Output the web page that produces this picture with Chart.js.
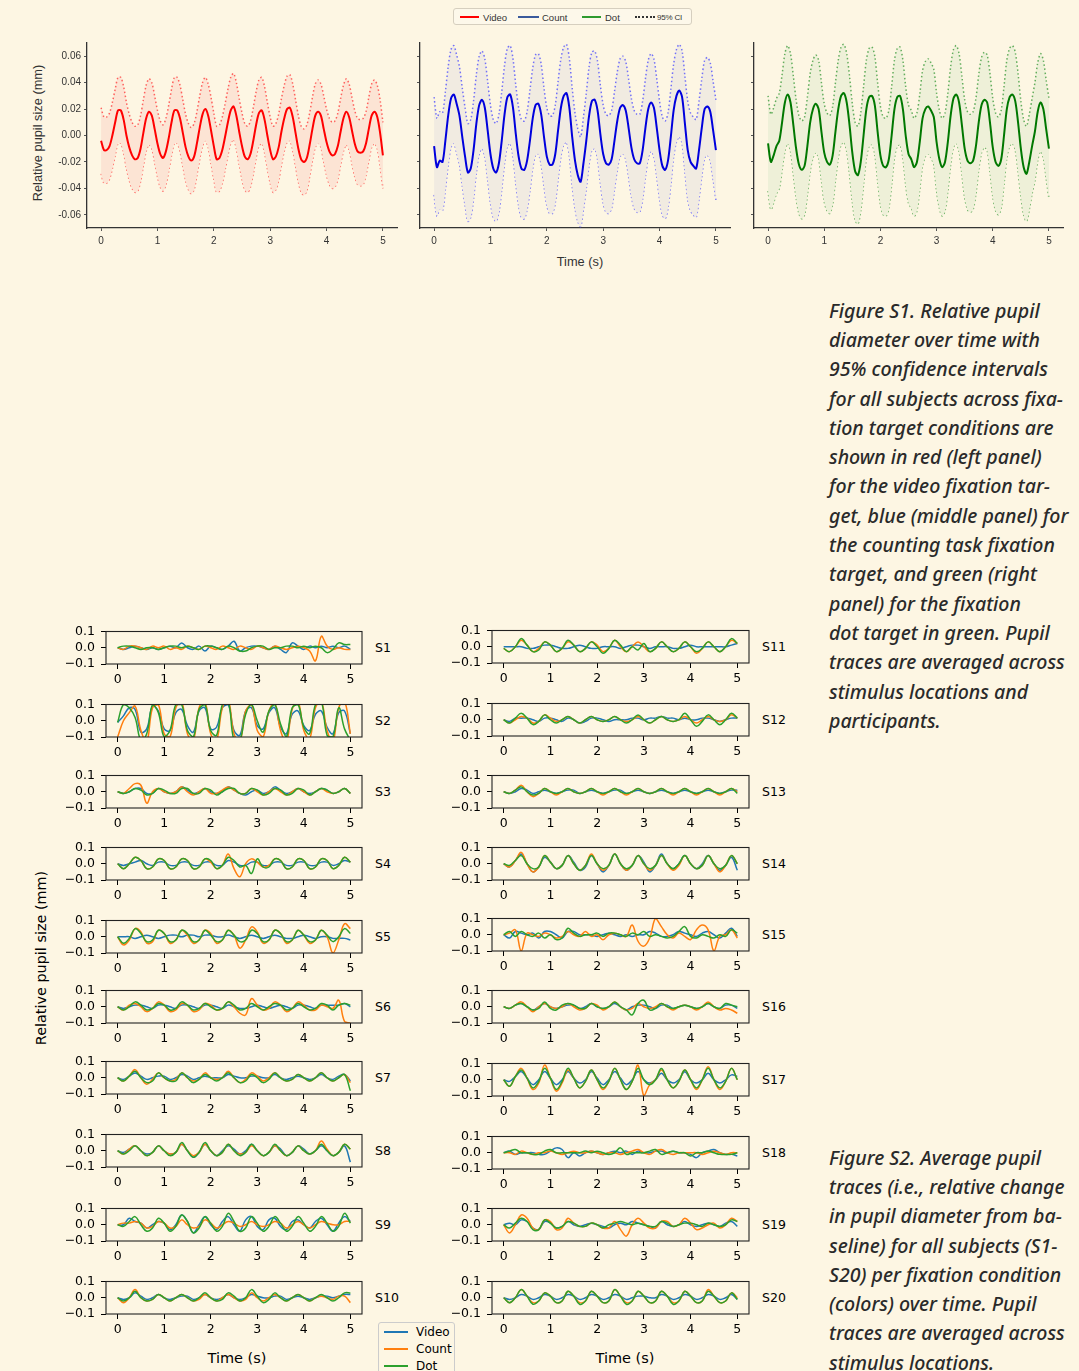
<!DOCTYPE html>
<html>
<head>
<meta charset="utf-8">
<title>Relative pupil diameter over time</title>
<script src="https://cdn.jsdelivr.net/npm/chart.js@4.4.1/dist/chart.umd.min.js"></script>
<style>
  html, body { margin: 0; padding: 0; }
  body { width: 1079px; height: 1371px; background: #fdf6e3; position: relative; overflow: hidden; }
  canvas { position: absolute; }
  .txt { position: absolute; white-space: nowrap; }
  .caption { position: absolute; left: 829px; font-family: "Noto Sans", sans-serif; font-style: italic; font-weight: 500;
             font-size: 19.5px; line-height: 29.3px; color: #2a2a2a; white-space: nowrap; }
  .legbox { position: absolute; box-sizing: border-box; border: 1px solid #d6cfbf; border-radius: 3px; }
  .sw { position: absolute; }
  .lt { position: absolute; white-space: nowrap; transform: translateY(-50%); }
  .slabel { position: absolute; font-family: "DejaVu Sans", sans-serif; font-size: 12.5px; color: #000;
            transform: translateY(-50%); white-space: nowrap; }
</style>
</head>
<body>

<!-- legend of the three mean panels -->
<div class="legbox" style="left:453px;top:8px;width:239px;height:17px;background:#fdf8ea;font-family:'Liberation Sans',Arial,sans-serif;color:#333;">
  <div class="sw" style="left:6px;top:7px;width:19px;height:1.5px;background:#ff0000;"></div>
  <div class="lt" style="left:29px;top:8px;font-size:9.5px;">Video</div>
  <div class="sw" style="left:64px;top:7px;width:21px;height:1.5px;background:#3a5a9c;"></div>
  <div class="lt" style="left:88px;top:8px;font-size:9.5px;">Count</div>
  <div class="sw" style="left:128px;top:7px;width:19px;height:1.5px;background:#2e9a2e;"></div>
  <div class="lt" style="left:151px;top:8px;font-size:9.5px;">Dot</div>
  <div class="sw" style="left:181px;top:7px;width:20px;height:0;border-top:2px dotted #333;"></div>
  <div class="lt" style="left:203px;top:8px;font-size:8px;letter-spacing:-0.2px;">95% CI</div>
</div>

<div class="txt" style="left:37px;top:133px;font-family:'Liberation Sans',Arial,sans-serif;font-size:12.8px;color:#333;transform:translate(-50%,-50%) rotate(-90deg);">Relative pupil size (mm)</div>
<div class="txt" style="left:580px;top:261px;font-family:'Liberation Sans',Arial,sans-serif;font-size:12.8px;color:#333;transform:translate(-50%,-50%);">Time (s)</div>

<div class="caption" style="top:295.7px;">Figure S1. Relative pupil<br>diameter over time with<br>95% confidence intervals<br>for all subjects across fixa-<br>tion target conditions are<br>shown in red (left panel)<br>for the video fixation tar-<br>get, blue (middle panel) for<br>the counting task fixation<br>target, and green (right<br>panel) for the fixation<br>dot target in green. Pupil<br>traces are averaged across<br>stimulus locations and<br>participants.</div>

<div class="caption" style="top:1142.7px;">Figure S2. Average pupil<br>traces (i.e., relative change<br>in pupil diameter from ba-<br>seline) for all subjects (S1-<br>S20) per fixation condition<br>(colors) over time. Pupil<br>traces are averaged across<br>stimulus locations.</div>

<div class="txt" style="left:41px;top:958px;font-family:'DejaVu Sans',sans-serif;font-size:14.4px;color:#000;transform:translate(-50%,-50%) rotate(-90deg);">Relative pupil size (mm)</div>
<div class="txt" style="left:237px;top:1358px;font-family:'DejaVu Sans',sans-serif;font-size:14.5px;color:#000;transform:translate(-50%,-50%);">Time (s)</div>
<div class="txt" style="left:625px;top:1358px;font-family:'DejaVu Sans',sans-serif;font-size:14.5px;color:#000;transform:translate(-50%,-50%);">Time (s)</div>

<!-- legend of the per-subject panels -->
<div class="legbox" style="left:378px;top:1322px;width:77px;height:70px;border-color:#cccccc;font-family:'DejaVu Sans',sans-serif;font-size:12px;color:#000;">
  <div class="sw" style="left:5px;top:8px;width:24px;height:1.6px;background:#1f77b4;"></div>
  <div class="lt" style="left:37px;top:9px;">Video</div>
  <div class="sw" style="left:5px;top:25px;width:24px;height:1.6px;background:#ff7f0e;"></div>
  <div class="lt" style="left:37px;top:26px;">Count</div>
  <div class="sw" style="left:5px;top:42px;width:24px;height:1.6px;background:#2ca02c;"></div>
  <div class="lt" style="left:37px;top:43px;">Dot</div>
</div>

<script>
// ---------- Mean traces (relative pupil size in mm), sampled every 0.05 s ----------
const topTimes = Array.from({ length: 101 }, (_, i) => +(i * 0.05).toFixed(2));

const videoMean = [
  -0.004,-0.011,-0.011,-0.008,0.000,0.010,0.019,0.019,0.012,0.000,
  -0.009,-0.015,-0.018,-0.017,-0.010,0.002,0.013,0.018,0.015,0.005,
  -0.006,-0.014,-0.017,-0.012,-0.002,0.010,0.019,0.019,0.013,0.002,
  -0.009,-0.016,-0.019,-0.016,-0.006,0.006,0.016,0.020,0.015,0.004,
  -0.008,-0.018,-0.017,-0.011,-0.001,0.010,0.019,0.022,0.015,0.003,
  -0.008,-0.016,-0.018,-0.014,-0.004,0.008,0.017,0.019,0.012,0.000,
  -0.011,-0.018,-0.016,-0.009,0.003,0.013,0.020,0.021,0.014,0.002,
  -0.010,-0.018,-0.020,-0.017,-0.007,0.005,0.015,0.018,0.015,0.005,
  -0.005,-0.012,-0.015,-0.014,-0.008,0.003,0.013,0.018,0.014,0.004,
  -0.006,-0.012,-0.013,-0.012,-0.006,0.005,0.015,0.018,0.014,0.002,
  -0.015
];
const videoCiHalf = [
  0.025,0.025,0.025,0.025,0.025,0.025,0.025,0.025,0.025,0.025,
  0.025,0.025,0.025,0.025,0.025,0.025,0.025,0.025,0.025,0.025,
  0.025,0.025,0.025,0.025,0.025,0.025,0.025,0.025,0.025,0.025,
  0.025,0.025,0.025,0.025,0.024,0.024,0.024,0.024,0.024,0.025,
  0.025,0.025,0.025,0.025,0.025,0.025,0.025,0.025,0.025,0.025,
  0.025,0.025,0.025,0.025,0.025,0.025,0.025,0.025,0.025,0.025,
  0.025,0.025,0.025,0.025,0.025,0.025,0.025,0.025,0.025,0.025,
  0.025,0.025,0.025,0.025,0.024,0.024,0.024,0.024,0.024,0.025,
  0.025,0.025,0.025,0.025,0.025,0.025,0.025,0.025,0.025,0.025,
  0.025,0.025,0.025,0.025,0.024,0.024,0.024,0.024,0.024,0.025,
  0.025
];

const countMean = [
  -0.008,-0.024,-0.019,-0.020,-0.004,0.015,0.028,0.031,0.024,0.015,
  -0.001,-0.016,-0.028,-0.025,-0.011,0.009,0.023,0.027,0.021,0.004,
  -0.014,-0.025,-0.028,-0.021,-0.004,0.016,0.029,0.031,0.021,0.001,
  -0.016,-0.025,-0.026,-0.019,-0.004,0.013,0.023,0.024,0.016,-0.001,
  -0.016,-0.022,-0.022,-0.014,0.004,0.021,0.030,0.032,0.021,-0.001,
  -0.019,-0.030,-0.035,-0.021,-0.004,0.015,0.026,0.027,0.019,0.001,
  -0.014,-0.021,-0.022,-0.018,-0.004,0.011,0.021,0.023,0.019,0.006,
  -0.009,-0.018,-0.021,-0.021,-0.011,0.006,0.020,0.025,0.021,0.006,
  -0.011,-0.023,-0.026,-0.019,-0.001,0.019,0.030,0.034,0.029,0.009,
  -0.011,-0.020,-0.023,-0.025,-0.011,0.006,0.020,0.022,0.018,0.004,
  -0.011
];
const countCiHalf = [
  0.037,0.037,0.037,0.037,0.037,0.037,0.037,0.037,0.037,0.037,
  0.037,0.037,0.037,0.037,0.037,0.037,0.037,0.037,0.037,0.037,
  0.037,0.037,0.037,0.037,0.037,0.037,0.037,0.037,0.037,0.037,
  0.037,0.037,0.037,0.037,0.038,0.038,0.038,0.038,0.038,0.037,
  0.037,0.037,0.037,0.037,0.037,0.037,0.037,0.037,0.037,0.037,
  0.036,0.035,0.034,0.035,0.036,0.037,0.037,0.037,0.037,0.037,
  0.037,0.037,0.037,0.037,0.037,0.037,0.037,0.037,0.037,0.037,
  0.037,0.037,0.037,0.037,0.037,0.037,0.037,0.037,0.037,0.037,
  0.037,0.037,0.037,0.036,0.036,0.035,0.035,0.035,0.035,0.036,
  0.037,0.037,0.037,0.037,0.037,0.037,0.037,0.037,0.037,0.037,
  0.038
];

const dotMean = [
  -0.006,-0.020,-0.015,-0.008,-0.004,0.010,0.025,0.031,0.025,0.008,
  -0.010,-0.022,-0.026,-0.023,-0.008,0.010,0.020,0.024,0.020,0.003,
  -0.013,-0.020,-0.022,-0.015,0.003,0.020,0.030,0.032,0.025,0.008,
  -0.013,-0.027,-0.030,-0.020,0.000,0.020,0.029,0.030,0.023,0.003,
  -0.015,-0.023,-0.024,-0.018,0.000,0.020,0.029,0.030,0.020,0.000,
  -0.014,-0.018,-0.024,-0.020,-0.005,0.013,0.020,0.022,0.019,0.014,
  -0.005,-0.018,-0.024,-0.020,-0.005,0.015,0.028,0.031,0.025,0.008,
  -0.010,-0.019,-0.021,-0.019,-0.008,0.010,0.023,0.027,0.025,0.010,
  -0.009,-0.020,-0.023,-0.018,0.000,0.020,0.029,0.031,0.026,0.010,
  -0.010,-0.024,-0.029,-0.020,-0.008,0.003,0.018,0.025,0.020,0.005,
  -0.010
];
const dotCiHalf = [
  0.036,0.036,0.036,0.036,0.036,0.036,0.037,0.037,0.037,0.037,
  0.037,0.037,0.037,0.037,0.037,0.037,0.037,0.037,0.037,0.037,
  0.037,0.037,0.037,0.037,0.037,0.037,0.037,0.037,0.037,0.037,
  0.037,0.037,0.037,0.037,0.037,0.037,0.037,0.037,0.037,0.037,
  0.037,0.037,0.037,0.037,0.037,0.037,0.037,0.037,0.037,0.037,
  0.037,0.037,0.037,0.037,0.036,0.036,0.036,0.036,0.036,0.036,
  0.037,0.037,0.037,0.037,0.037,0.037,0.037,0.037,0.037,0.037,
  0.037,0.037,0.037,0.037,0.036,0.036,0.036,0.036,0.036,0.037,
  0.037,0.037,0.037,0.037,0.037,0.037,0.037,0.037,0.037,0.037,
  0.036,0.036,0.036,0.036,0.036,0.037,0.037,0.037,0.037,0.037,
  0.038
];

// ---------- Per-subject traces (mm), sampled every 0.125 s ----------
const subTimes = Array.from({ length: 41 }, (_, i) => i * 0.125);
const subjects = ['S1','S2','S3','S4','S5','S6','S7','S8','S9','S10',
                  'S11','S12','S13','S14','S15','S16','S17','S18','S19','S20'];

const videoTraces = [
  [0,-0.01,0,0.01,0,-0.01,0,-0.01, 0,0.01,0,0.03,0,-0.01,0.01,-0.02, 0.01,0,-0.01,0.01,0.04,-0.02,0,0.01, 0.01,0,-0.01,0.01,-0.01,-0.03,0.03,0.01, -0.01,0.01,0,0.01,0,0.01,0,0.01, -0.01],
  [-0.01,0.03,0.08,0.07,-0.07,-0.05,0.09,0.06, -0.05,-0.06,0.05,0.07,-0.03,-0.07,0.06,0.08, -0.05,-0.04,0.08,0.1,-0.06,-0.09,0.06,0.08, -0.03,-0.05,0.05,0.08,-0.04,-0.08,0.04,0.06, -0.03,-0.06,0.04,0.06,-0.04,-0.08,0.05,0.06, -0.08],
  [0,-0.01,0,0.02,0.02,-0.01,-0.01,0.02, 0,-0.01,0,0.03,0.01,-0.01,0,0.02, 0,-0.01,0,0.03,0.01,-0.01,-0.02,0, 0.01,-0.01,0,0.03,0.01,-0.01,0,0.02, 0,-0.01,0,0.02,0.01,-0.01,0,0.02, -0.01],
  [0,-0.01,0,0.01,0.02,0,-0.01,0.01, 0.01,-0.01,-0.01,0.01,0.01,-0.01,-0.01,0.01, 0.01,-0.01,-0.01,0.02,0.01,-0.01,-0.01,0.01, 0.01,-0.01,-0.01,0.01,0.01,-0.01,-0.01,0.01, 0.01,-0.01,-0.01,0.01,0.01,-0.01,0,0.02, 0.01],
  [0,0,0,-0.01,0,0.01,0,-0.01, 0,0.01,0.01,0,0.01,0.01,0,0.01, 0.01,0,0,0.01,0,-0.01,0,0.01, 0,-0.01,0,0.01,0,-0.01,-0.01,0, 0.01,0,-0.01,0,0,-0.01,-0.01,-0.01, -0.02],
  [0,-0.01,0,0.01,0.01,0,-0.01,0.01, 0.01,0,-0.01,0.01,0.01,0,-0.01,0.01, 0.01,0,-0.01,0.01,0,-0.01,-0.01,0, 0.01,0,-0.01,0,0.01,0,-0.01,0.01, 0.01,0,-0.01,0.01,0.01,0.01,0.01,0.02, 0],
  [0,-0.01,0.01,0.03,0.01,-0.01,0,0.01, 0.01,-0.01,0,0.02,0.01,-0.01,0,0.01, 0,0,0,0.02,0.01,0,0,0.01, 0.01,0,0,0.02,0,-0.01,0,0.01, 0,-0.01,0,0.02,0,-0.01,0.01,0.02, -0.02],
  [0,-0.01,0.01,0.03,0,-0.02,-0.01,0.03, 0,-0.02,-0.01,0.04,0,-0.04,-0.01,0.04, 0,-0.03,0,0.03,0.01,-0.02,0,0.04, 0,-0.03,-0.01,0.03,0.01,-0.03,-0.01,0.03, 0.01,-0.02,0,0.03,0,-0.03,-0.01,0.03, -0.07],
  [0,0,0.04,0.02,0.01,-0.02,0,0.02, 0.01,-0.03,0,0.06,0.02,-0.05,0,0.05, 0,-0.03,0.02,0.05,0,-0.04,0.03,0.05, -0.01,-0.03,0.03,0.04,-0.01,-0.03,0.02,0.03, 0,-0.02,0.02,0.04,0,-0.04,0.01,0.05, 0.02],
  [0,-0.01,0,0.03,0.01,-0.01,0,0.02, 0,-0.01,0,0.01,0.01,-0.01,0,0.02, 0,-0.01,0,0.02,0,-0.01,0,0.02, 0.01,0,0,0.01,0.01,-0.01,0,0.01, 0,-0.01,0,0.01,0.01,0,0.01,0.02, 0.02],
  [0,0,0,0,-0.01,-0.01,0,0.01, 0.01,0,-0.01,-0.01,0,0.01,0,-0.01, -0.01,0,0,0,-0.01,0,0.01,0.01, 0,-0.01,0,0,0,-0.01,-0.01,0, 0.01,0,0,0,0,0,0,0.01, 0.02],
  [0,-0.01,0.01,0.01,0.01,0,-0.01,0.01, 0.01,0,-0.01,0.01,0,-0.02,-0.01,0.01, 0.01,0,-0.01,0,0,0,0.01,0.01, 0,0.01,0.01,0.02,0.01,0.01,0,0.01, 0,0,0.01,0.01,0,-0.01,0,0.01, 0.01],
  [0,-0.01,0,0.02,0.01,-0.01,0,0.01, 0,-0.01,0,0.01,0.01,-0.01,0,0.01, 0,-0.01,0,0.01,0.01,-0.01,0,0.01, 0,-0.01,0,0.01,0,-0.01,0,0.01, 0,-0.01,0,0.01,0,-0.01,0,0.01, 0.01],
  [0,-0.02,0.02,0.06,0,-0.05,-0.02,0.04, 0.01,-0.03,-0.01,0.05,0.01,-0.04,-0.02,0.05, 0,-0.05,-0.01,0.06,0,-0.04,-0.01,0.05, 0.01,-0.05,-0.01,0.06,0,-0.03,0,0.05, 0,-0.03,0,0.05,0,-0.04,-0.01,0.04, -0.04],
  [0,-0.02,0.02,0.01,0,0.01,-0.02,0.02, 0.02,0,-0.02,0.02,0.02,0,0,0, -0.01,0,0.01,0,-0.01,0,-0.01,0, 0,0.02,0.01,-0.01,-0.01,0,0.02,0.01, 0,-0.01,0.01,0.02,0,-0.02,0.01,0.04, -0.01],
  [0,-0.01,0.01,0.02,0,-0.02,0,0.02, 0,-0.01,0,0.01,0.01,-0.01,0,0.02, 0,-0.01,0,0.02,0,-0.02,0,0.01, 0.01,0,-0.01,0.01,0.01,-0.01,0,0.01, 0,-0.01,0,0.02,0,-0.01,0.01,0.01, -0.01],
  [0,-0.01,0.02,0.05,0.01,-0.03,0,0.05, 0.01,-0.03,0,0.05,0.01,-0.02,0,0.05, 0.01,-0.03,0,0.05,0.01,-0.03,0,0.05, 0,-0.02,0,0.04,0,-0.02,0,0.05, 0,-0.02,0,0.04,0,-0.02,0,0.03, 0.02],
  [0,0.01,-0.01,0,0,0,-0.01,-0.01, 0.01,0.03,0.02,-0.03,0,-0.02,0,0.01, 0,-0.01,0,0.01,0,0.01,-0.01,0.01, 0,0,0.01,0.01,0,0.01,0,0, -0.01,-0.03,0,0.01,0.02,0,-0.01,-0.01, -0.02],
  [0,0.01,0,0.03,0.02,-0.02,-0.03,0.02, 0.01,-0.02,-0.01,0.02,0,-0.01,0,0.01, 0,-0.01,-0.02,0,0.01,0,0.02,0.01, 0,-0.01,-0.02,0.02,0,-0.01,0,0.02, 0,-0.01,0,0.01,0,-0.01,0.01,0.02, -0.01],
  [0,-0.01,0,0.02,0.01,-0.01,0,0.02, 0.01,-0.01,0,0.02,0.01,-0.01,0,0.02, 0.01,-0.01,0,0.02,0.01,-0.01,0,0.01, 0.01,0,0,0.02,0.01,-0.01,0,0.02, 0.01,-0.01,0,0.02,0.01,-0.01,0,0.02, -0.01]
];

const countTraces = [
  [0,-0.01,0.01,0.01,0,-0.01,0.01,0, 0.01,-0.01,0,-0.01,0.01,0,-0.01,0.01, 0,-0.01,0.01,0,-0.01,0.01,0,-0.01, 0.01,0,-0.01,0.01,0,-0.01,0,0.01, 0,-0.02,-0.08,0.07,0.01,-0.01,0,-0.01, -0.01],
  [-0.1,0,0.05,0.09,-0.06,-0.13,0.08,0.1, -0.08,-0.1,0.08,0.12,-0.08,-0.12,0.08,0.12, -0.08,-0.12,0.08,0.13,-0.08,-0.13,0.06,0.1, -0.06,-0.1,0.06,0.11,-0.06,-0.13,0.07,0.12, -0.06,-0.11,0.08,0.12,-0.06,-0.13,0.08,0.12, -0.08],
  [0,-0.01,0.02,0.05,0.04,-0.07,0,0.02, 0,-0.01,0,0.03,0,-0.02,0,0.02, -0.01,-0.01,0.01,0.03,0.01,-0.01,-0.01,0.02, 0,-0.02,0,0.02,0,-0.02,0,0.02, 0,-0.02,0,0.02,0,-0.01,0,0.02, -0.01],
  [0,-0.03,0,0.04,0.02,-0.03,-0.02,0.03, 0.02,-0.03,-0.02,0.03,0.02,-0.03,-0.02,0.03, 0.01,-0.03,-0.01,0.06,-0.03,-0.08,0,0.03, 0.01,-0.02,-0.01,0.03,0.02,-0.03,-0.02,0.03, 0.02,-0.03,-0.02,0.03,0.02,-0.03,-0.01,0.04, 0.01],
  [0,-0.05,-0.02,0.05,0.03,-0.04,-0.03,0.04, 0.02,-0.04,-0.02,0.04,0.01,-0.04,-0.02,0.04, 0.02,-0.04,-0.02,0.04,0.01,-0.07,-0.02,0.06, 0.03,-0.04,-0.02,0.04,0.02,-0.04,-0.02,0.04, 0.01,-0.04,-0.02,0.04,0,-0.1,-0.02,0.08, 0.05],
  [0,-0.02,0.01,0.02,0,-0.03,-0.01,0.03, 0.01,-0.03,-0.02,0.02,0.01,-0.03,-0.02,0.02, 0.01,-0.02,-0.01,0.03,0,-0.04,-0.05,0.05, 0.01,-0.02,-0.01,0.03,0.01,-0.03,-0.01,0.03, 0.01,-0.02,-0.02,0.01,0,-0.01,0.04,-0.09, -0.1],
  [0,-0.02,0.01,0.05,0,-0.04,-0.01,0.03, 0,-0.02,-0.01,0.03,0,-0.02,-0.01,0.03, 0,-0.01,0,0.04,0,-0.03,-0.01,0.03, 0.01,-0.02,0,0.03,0,-0.02,-0.01,0.02, 0,-0.02,0,0.03,0,-0.02,0,0.02, -0.03],
  [0,-0.02,0.01,0.03,0,-0.03,-0.01,0.03, 0,-0.02,-0.01,0.04,0,-0.03,-0.01,0.04, 0,-0.03,-0.01,0.04,0,-0.02,-0.01,0.03, 0,-0.03,-0.01,0.03,0,-0.03,-0.01,0.03, 0,-0.02,0,0.06,0.01,-0.03,-0.01,0.04, 0.01],
  [0,0.01,0.01,0.02,0.01,-0.02,-0.01,0.02, 0.01,-0.02,-0.01,0.03,0,-0.02,-0.01,0.03, 0.01,-0.02,0,0.02,0.01,-0.01,0,0.02, 0,-0.01,0,0.02,0.01,-0.02,0,0.02, 0,-0.02,0,0.02,0.01,0,0,0.02, 0.02],
  [0,-0.03,0,0.05,0,-0.02,-0.01,0.02, 0,-0.02,0,0.02,0,-0.02,-0.01,0.02, 0,-0.02,0,0.02,0,-0.02,-0.01,0.03, 0,-0.02,0,0.02,0,-0.02,0,0.02, 0,-0.02,0,0.01,0,-0.01,0.01,0.01, -0.03],
  [-0.01,-0.03,0,0.04,0.01,-0.03,-0.01,0.03, 0.01,-0.03,-0.01,0.03,0.01,-0.03,-0.01,0.03, 0.01,-0.03,-0.01,0.04,0,-0.03,0,0.03, 0,-0.03,-0.01,0.03,0,-0.03,-0.01,0.03, 0,-0.04,-0.01,0.03,0,-0.03,0,0.04, 0.02],
  [0,-0.02,0,0.02,0.01,-0.02,-0.01,0.03, 0.01,-0.01,0,0.02,0,-0.02,0,0.02, 0,-0.01,0,0.02,0,-0.01,0,0.02, 0,-0.02,0,0.02,0,-0.01,0,0.02, 0,-0.02,0,0.02,0,-0.01,0,0.03, 0.01],
  [0,-0.01,0.01,0.04,0,-0.03,-0.01,0.02, 0,-0.02,0,0.02,0,-0.01,0,0.02, 0,-0.02,0,0.02,0,-0.02,0,0.02, 0,-0.01,0,0.02,0,-0.02,0,0.02, 0,-0.02,0,0.02,0,-0.02,0,0.02, 0],
  [0,-0.02,0.02,0.07,0,-0.05,-0.02,0.05, 0.01,-0.03,-0.01,0.05,0,-0.04,-0.01,0.06, 0,-0.04,-0.01,0.06,0,-0.04,-0.01,0.05, 0,-0.04,-0.01,0.05,0,-0.04,-0.01,0.05, 0,-0.03,-0.01,0.05,0,-0.05,-0.01,0.05, 0],
  [0,0.01,0.03,-0.1,0.01,0,-0.01,0.01, 0,-0.02,-0.01,0.02,0,-0.01,0.02,-0.01, 0,-0.03,0,0.01,0,-0.01,0.06,-0.04, -0.07,-0.02,0.1,0.05,0,-0.02,0.01,-0.01, -0.03,0.03,0.06,0.03,-0.1,-0.01,0,0.03, -0.02],
  [0,-0.01,0.01,0.03,0,-0.03,0,0.02, 0,-0.01,0,0.02,0,-0.02,-0.01,0.02, 0.01,-0.02,0,0.03,0,-0.02,-0.01,0.02, 0,-0.01,0,0.02,0,-0.02,0,0.01, 0,-0.02,0,0.03,0,-0.02,-0.01,-0.02, -0.04],
  [0,-0.04,0.02,0.07,0.01,-0.06,-0.02,0.09, 0.01,-0.07,-0.02,0.06,0.01,-0.05,-0.01,0.06, 0,-0.06,-0.01,0.07,0,-0.06,-0.01,0.09, -0.1,-0.03,0,0.06,0,-0.05,-0.01,0.06, 0,-0.06,0,0.08,0,-0.06,-0.01,0.07, 0],
  [0,0,-0.01,0.01,0,-0.01,0,0, 0.01,0,-0.01,0,0.01,0,0,0.01, 0,-0.01,0,0,-0.01,0,0.01,0.02, 0,-0.01,0.01,0.02,0,-0.01,0,0, 0,0,-0.01,0,0.01,0,-0.01,0, 0],
  [0,-0.05,0,0.06,0.04,-0.02,-0.03,0.03, 0.02,-0.03,-0.02,0.04,0.01,-0.01,-0.01,0.01, 0,-0.02,-0.02,0.02,-0.03,-0.07,0,0.04, 0.01,-0.02,-0.02,0.02,0.02,-0.01,0,0.04, 0.01,-0.03,-0.02,0,0.01,-0.02,0,0.04, 0.02],
  [0,-0.03,0,0.05,0.01,-0.03,-0.02,0.03, 0.01,-0.03,-0.02,0.04,0.01,-0.03,-0.02,0.04, 0.01,-0.03,-0.02,0.05,0.01,-0.03,-0.02,0.04, 0.01,-0.03,-0.02,0.04,0.01,-0.03,-0.02,0.04, 0.01,-0.03,-0.02,0.05,0.01,-0.03,-0.02,0.03, 0]
];

const dotTraces = [
  [0,0.01,0.01,0,-0.01,0,0,-0.01, 0,0.01,0.01,0,0.01,0,-0.01,0.01, 0.01,0,-0.01,0.01,0,-0.02,-0.02,0, 0.01,0.01,-0.01,0,0,0.01,0.01,0, 0.01,0,0.01,0,-0.03,-0.01,0.03,0.02, 0.02],
  [-0.01,0.1,0.08,0.02,-0.12,-0.08,0.1,0.05, -0.1,-0.06,0.1,0.1,-0.06,-0.1,0.07,0.1, -0.06,-0.09,0.1,0.12,-0.12,-0.12,0.04,0.1, 0,-0.07,0.06,0.1,-0.02,-0.1,0.08,0.1, -0.04,-0.08,0.1,0.12,-0.09,-0.1,0.08,-0.05, -0.12],
  [0,-0.01,0,0.02,0.01,-0.02,-0.01,0.02, 0.01,-0.01,-0.01,0.02,0.02,-0.01,-0.01,0.02, 0.01,-0.02,0,0.02,0.02,-0.01,-0.01,0.02, 0.01,-0.02,-0.01,0.02,0.01,-0.02,-0.01,0.02, 0.01,-0.02,0,0.02,0.01,-0.01,0,0.02, -0.01],
  [0,-0.03,0,0.04,0.02,-0.03,-0.02,0.03, 0.02,-0.03,-0.02,0.03,0.02,-0.03,-0.02,0.03, 0.02,-0.03,-0.01,0.04,0.02,-0.02,-0.01,-0.06, 0.03,-0.02,-0.02,0.03,0.02,-0.03,-0.02,0.03, 0.02,-0.03,-0.02,0.03,0.02,-0.03,-0.01,0.04, 0.01],
  [0,-0.04,-0.01,0.05,0.02,-0.03,-0.02,0.04, 0.02,-0.03,-0.02,0.04,0.02,-0.03,-0.02,0.04, 0.01,-0.03,-0.02,0.04,0.01,-0.03,-0.02,0.04, 0.02,-0.03,-0.02,0.04,0.02,-0.03,-0.02,0.04, 0.01,-0.03,-0.02,0.04,0.01,-0.03,0,0.05, 0.02],
  [0,-0.02,0,0.03,0.01,-0.02,-0.01,0.02, 0.01,-0.02,-0.01,0.03,0.01,-0.02,-0.01,0.02, 0,-0.02,-0.01,0.03,0.01,-0.02,-0.01,0.02, 0,-0.02,0,0.02,0.01,-0.02,-0.01,0.02, 0,-0.02,-0.01,0.02,0.01,-0.02,0.01,0.02, 0.01],
  [0,-0.02,0.01,0.04,0,-0.03,-0.02,0.03, 0,-0.02,-0.02,0.03,0,-0.03,-0.01,0.02, 0,-0.02,0,0.03,0,-0.03,-0.02,0.02, 0,-0.03,-0.01,0.03,0,-0.02,-0.01,0.02, 0,-0.02,0,0.03,0,-0.02,0,0.02, -0.08],
  [0,-0.02,0,0.03,0,-0.03,-0.01,0.03, 0,-0.03,-0.01,0.05,0,-0.04,-0.01,0.05, 0,-0.03,-0.01,0.04,0,-0.03,-0.01,0.04, 0,-0.03,-0.01,0.04,0,-0.03,-0.01,0.03, 0,-0.02,0,0.04,0,-0.03,-0.01,0.04, 0.01],
  [0,-0.01,0.02,0.05,0,-0.04,-0.02,0.04, 0.01,-0.04,-0.01,0.06,0.02,-0.05,-0.02,0.05, 0.01,-0.04,-0.01,0.07,0.02,-0.04,-0.02,0.05, 0.01,-0.04,-0.01,0.05,0.01,-0.04,-0.01,0.05, 0.01,-0.04,-0.01,0.05,0.01,-0.04,-0.01,0.07, 0.01],
  [0,-0.02,0,0.04,0,-0.02,-0.01,0.02, 0,-0.02,0,0.02,0,-0.02,0,0.03, 0,-0.02,-0.01,0.03,0.01,-0.02,0,0.05, 0.01,-0.03,-0.01,0.03,0,-0.02,0,0.02, 0,-0.02,0,0.02,0,-0.02,0,0.03, 0.03],
  [-0.01,-0.03,0,0.05,0.01,-0.03,-0.02,0.03, 0.01,-0.03,-0.01,0.04,0.01,-0.03,-0.01,0.03, 0,-0.04,-0.01,0.04,0.01,-0.03,0,-0.02, 0.02,-0.03,-0.01,0.03,0,-0.03,-0.01,0.03, 0,-0.03,-0.01,0.03,0,-0.03,0,0.05, 0.02],
  [0,-0.02,0.01,0.04,0.01,-0.03,-0.01,0.03, 0,-0.02,0,0.02,0,-0.02,0,0.02, 0,-0.01,0,0.02,0,-0.02,0,0.03, 0,-0.02,0,0.02,0,-0.01,0,0.04, 0,-0.04,-0.01,0.03,0,-0.03,0,0.04, 0.01],
  [0,-0.01,0.01,0.03,0,-0.02,-0.01,0.02, 0,-0.01,0,0.02,0,-0.01,0,0.02, 0,-0.01,0,0.02,0,-0.01,0,0.02, 0,-0.01,0,0.02,0,-0.01,0,0.02, 0,-0.01,0,0.02,0,-0.01,0,0.02, -0.01],
  [0,-0.01,0.02,0.05,0,-0.03,-0.02,0.05, 0.01,-0.03,-0.01,0.05,0,-0.04,-0.01,0.05, 0,-0.03,-0.01,0.06,0,-0.03,-0.01,0.05, 0,-0.03,-0.01,0.05,0,-0.03,0,0.05, 0,-0.03,-0.01,0.05,0,-0.03,-0.01,0.05, 0],
  [0,0.02,-0.01,0.02,0,-0.01,0.01,-0.02, 0,-0.03,-0.02,0.04,0.01,-0.01,0,0, 0.01,-0.01,0.01,0.01,0,-0.01,0.01,0, 0.02,-0.01,0,-0.01,-0.02,-0.01,0.02,0.05, -0.01,-0.02,0,-0.01,-0.02,0,-0.01,0.03, 0.01],
  [0,-0.01,0.01,0.02,0,-0.02,-0.01,0.03, -0.01,-0.02,0.01,0.02,0.01,-0.01,-0.01,0.02, 0,-0.01,0,0.03,0,-0.02,-0.05,0.02, 0.04,-0.02,-0.01,0.02,0,-0.01,0,0.01, 0,-0.01,0,0.02,0,-0.01,0.02,0.01, 0],
  [0,-0.04,0.02,0.06,0.01,-0.05,-0.01,0.07, 0.01,-0.06,-0.01,0.07,0.01,-0.05,-0.01,0.06, 0,-0.05,-0.01,0.07,0,-0.06,-0.01,0.07, 0,-0.03,0,0.07,0,-0.05,-0.01,0.06, 0,-0.05,0,0.07,0,-0.05,-0.01,0.07, 0],
  [0,0.01,0.02,0,0,-0.01,-0.01,0.01, 0.02,0,0,0,0,0,0.01,0, 0.01,0,-0.01,0,0.03,-0.01,0,0, 0,0.01,0.02,-0.01,0,0.01,0,0, -0.02,0,0,0.01,0,-0.01,-0.01,-0.01, 0],
  [0,-0.02,0.01,0.04,0.02,-0.03,-0.03,0.03, 0.01,-0.02,-0.01,0.02,0.01,-0.01,-0.01,0.01, 0,-0.02,0,0.01,0.02,0.01,0,0.01, 0,-0.01,-0.01,0.02,0.01,-0.01,0,0.01, 0.01,0,-0.01,0.01,0,-0.01,0,0.03, 0.02],
  [0,-0.03,0,0.05,0.01,-0.04,-0.02,0.03, 0.01,-0.03,-0.02,0.04,0.01,-0.04,-0.02,0.04, 0.01,-0.03,-0.02,0.05,0.01,-0.04,-0.02,0.04, 0.01,-0.03,-0.02,0.04,0.01,-0.04,-0.02,0.04, 0.01,-0.03,-0.02,0.04,0.01,-0.03,-0.02,0.03, -0.01]
];

const xTickValues = [0, 1, 2, 3, 4, 5];
const topYTicks = [-0.06, -0.04, -0.02, 0, 0.02, 0.04, 0.06];
const subYTicks = [-0.1, 0, 0.1];

// ---------- Chart.js setup ----------
Chart.defaults.animation = false;
Chart.defaults.responsive = false;
Chart.defaults.maintainAspectRatio = false;
Chart.defaults.devicePixelRatio = 1;
Chart.defaults.plugins.legend.display = false;
Chart.defaults.plugins.tooltip.enabled = false;
Chart.defaults.elements.point.radius = 0;

function placeCanvas(left, top, width, height) {
  const c = document.createElement('canvas');
  c.width = width; c.height = height;
  c.style.left = left + 'px'; c.style.top = top + 'px';
  c.style.width = width + 'px'; c.style.height = height + 'px';
  document.body.appendChild(c);
  return c;
}

// Full rectangular frame around a plot area
const framePlugin = {
  id: 'frame',
  afterDatasetsDraw(chart, args, opts) {
    if (!opts || !opts.show) return;
    const a = chart.chartArea, ctx = chart.ctx;
    ctx.save();
    ctx.strokeStyle = opts.color;
    ctx.lineWidth = opts.width;
    ctx.strokeRect(a.left, a.top, a.right - a.left, a.bottom - a.top);
    ctx.restore();
  }
};

// ---------- Mean panels with confidence bands ----------
const meanPanels = [
  { mean: videoMean, half: videoCiHalf, line: '#ff0000', ci: 'rgba(255,50,50,0.75)', fill: '#fce4d4', left: 87,  width: 310, labels: true },
  { mean: countMean, half: countCiHalf, line: '#0000dd', ci: 'rgba(70,70,255,0.75)', fill: '#f1ebe1', left: 420, width: 310, labels: false },
  { mean: dotMean,   half: dotCiHalf,   line: '#007800', ci: 'rgba(50,150,50,0.75)', fill: '#eef0d8', left: 754, width: 309, labels: false }
];

meanPanels.forEach(p => {
  const Ly = 46, padTop = 10, padRight = 12, Lx = 26, boxTop = 43, boxH = 185;
  const canvas = placeCanvas(p.left - Ly, boxTop - padTop, Ly + p.width + padRight, padTop + boxH + Lx);
  const pts = arr => arr.map((y, i) => ({ x: topTimes[i], y }));
  const upper = p.mean.map((m, i) => m + p.half[i]);
  const lower = p.mean.map((m, i) => m - p.half[i]);
  const tickFont = { family: "'Liberation Sans', Arial, sans-serif", size: 10 };
  new Chart(canvas, {
    type: 'line',
    data: {
      datasets: [
        { data: pts(p.mean), borderColor: p.line, borderWidth: 2, tension: 0.3, fill: false, order: 0, clip: 0 },
        { data: pts(upper), borderColor: p.ci, borderWidth: 1.5, borderDash: [1.5, 2.5], tension: 0.3,
          fill: '+1', backgroundColor: p.fill, order: 1, clip: 0 },
        { data: pts(lower), borderColor: p.ci, borderWidth: 1.5, borderDash: [1.5, 2.5], tension: 0.3,
          fill: false, order: 2, clip: 0 }
      ]
    },
    options: {
      layout: { padding: { top: padTop, right: padRight, left: 0, bottom: 0 } },
      scales: {
        x: {
          type: 'linear', min: -0.25, max: 5.25,
          afterBuildTicks: s => { s.ticks = xTickValues.map(v => ({ value: v })); },
          afterFit: s => { s.height = Lx; },
          ticks: { font: tickFont, color: '#333', padding: 4, maxRotation: 0, autoSkip: false, callback: v => String(v) },
          grid: { drawOnChartArea: false, drawTicks: true, tickLength: 3, color: '#555' },
          border: { display: true, color: '#333', width: 1.3 }
        },
        y: {
          type: 'linear', min: -0.07, max: 0.07,
          afterBuildTicks: s => { s.ticks = topYTicks.map(v => ({ value: v })); },
          afterFit: s => { s.width = Ly; },
          ticks: { font: tickFont, color: '#333', padding: 3, autoSkip: false,
                   callback: v => p.labels ? v.toFixed(2) : '' },
          grid: { drawOnChartArea: false, drawTicks: true, tickLength: 3, color: '#555' },
          border: { display: true, color: '#333', width: 1.3 }
        }
      }
    }
  });
});

// ---------- Per-subject panels ----------
const columnBoxes = [{ left: 106, width: 256 }, { left: 492, width: 257 }];
const rowTops = [
  [628, 701, 772, 844, 917, 987, 1058, 1131, 1205, 1278],
  [627, 700, 772, 844, 915, 987, 1060, 1133, 1205, 1278]
];
const boxHeight = 36;
const conditionColors = { video: '#1f77b4', count: '#ff7f0e', dot: '#2ca02c' };
const smallFont = { family: "'DejaVu Sans', sans-serif", size: 12.5 };
const fmtSub = v => (v === 0 ? '0.0' : (v < 0 ? '\u2212' : '') + Math.abs(v).toFixed(1));

subjects.forEach((name, idx) => {
  const col = idx < 10 ? 0 : 1;
  const row = idx % 10;
  const box = { left: columnBoxes[col].left, width: columnBoxes[col].width, top: rowTops[col][row] };
  const Ly = 50, padTop = 10, padRight = 10, Lx = 24;
  const canvas = placeCanvas(box.left - Ly, box.top - padTop, Ly + box.width + padRight, padTop + boxHeight + Lx);
  const pts = arr => arr.map((y, i) => ({ x: subTimes[i], y }));
  const line = (arr, color, order) => ({ data: pts(arr), borderColor: color, borderWidth: 1.5,
                                          tension: 0.4, fill: false, order, clip: 0 });
  new Chart(canvas, {
    type: 'line',
    data: {
      datasets: [
        line(videoTraces[idx], conditionColors.video, 2),
        line(countTraces[idx], conditionColors.count, 1),
        line(dotTraces[idx], conditionColors.dot, 0)
      ]
    },
    options: {
      layout: { padding: { top: padTop, right: padRight, left: 0, bottom: 0 } },
      plugins: { frame: { show: true, color: '#222', width: 1.1 } },
      scales: {
        x: {
          type: 'linear', min: -0.25, max: 5.25,
          afterBuildTicks: s => { s.ticks = xTickValues.map(v => ({ value: v })); },
          afterFit: s => { s.height = Lx; },
          ticks: { font: smallFont, color: '#000', padding: 3, maxRotation: 0, autoSkip: false, callback: v => String(v) },
          grid: { drawOnChartArea: false, drawTicks: true, tickLength: 5, color: '#000' },
          border: { display: false }
        },
        y: {
          type: 'linear', min: -0.1, max: 0.1,
          afterBuildTicks: s => { s.ticks = subYTicks.map(v => ({ value: v })); },
          afterFit: s => { s.width = Ly; },
          ticks: { font: smallFont, color: '#000', padding: 6, autoSkip: false, callback: v => fmtSub(v) },
          grid: { drawOnChartArea: false, drawTicks: true, tickLength: 5, color: '#000' },
          border: { display: false }
        }
      }
    },
    plugins: [framePlugin]
  });

  const lab = document.createElement('div');
  lab.className = 'slabel';
  lab.textContent = name;
  lab.style.left = (box.left + box.width + 13) + 'px';
  lab.style.top = (box.top + boxHeight / 2 + 1) + 'px';
  document.body.appendChild(lab);
});
</script>
</body>
</html>
